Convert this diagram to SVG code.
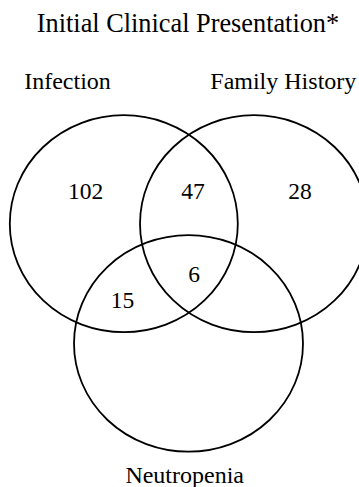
<svg xmlns="http://www.w3.org/2000/svg" width="359" height="487" viewBox="0 0 359 487">
<style>
.c{fill:none;stroke:#000;stroke-width:1.8}
text{font-family:"Liberation Serif","Times New Roman",serif;fill:#000;text-anchor:middle}
.t{font-size:26.3px}
.l{font-size:24px}
.n{font-size:23.5px}
</style>
<rect width="359" height="487" fill="#fff"/>
<text class="t" x="188" y="31.5">Initial Clinical Presentation*</text>
<g id="infection">
<ellipse class="c" cx="123.8" cy="223.7" rx="114" ry="108.5"/>
<text class="l" x="67.5" y="89.3">Infection</text>
<text class="n" x="85.5" y="199.3">102</text>
</g>
<g id="family-history">
<ellipse class="c" cx="254" cy="223.7" rx="114" ry="108.5"/>
<text class="l" x="283.3" y="89.3">Family History</text>
<text class="n" x="300" y="199.3">28</text>
</g>
<g id="neutropenia">
<ellipse class="c" cx="188.5" cy="343.4" rx="114.5" ry="108.3"/>
<text class="l" x="184.7" y="483">Neutropenia</text>
</g>
<g id="overlaps">
<text class="n" x="193" y="199.3">47</text>
<text class="n" x="194" y="281.7">6</text>
<text class="n" x="122.5" y="308.3">15</text>
</g>
<g id="connectors"/>
</svg>
